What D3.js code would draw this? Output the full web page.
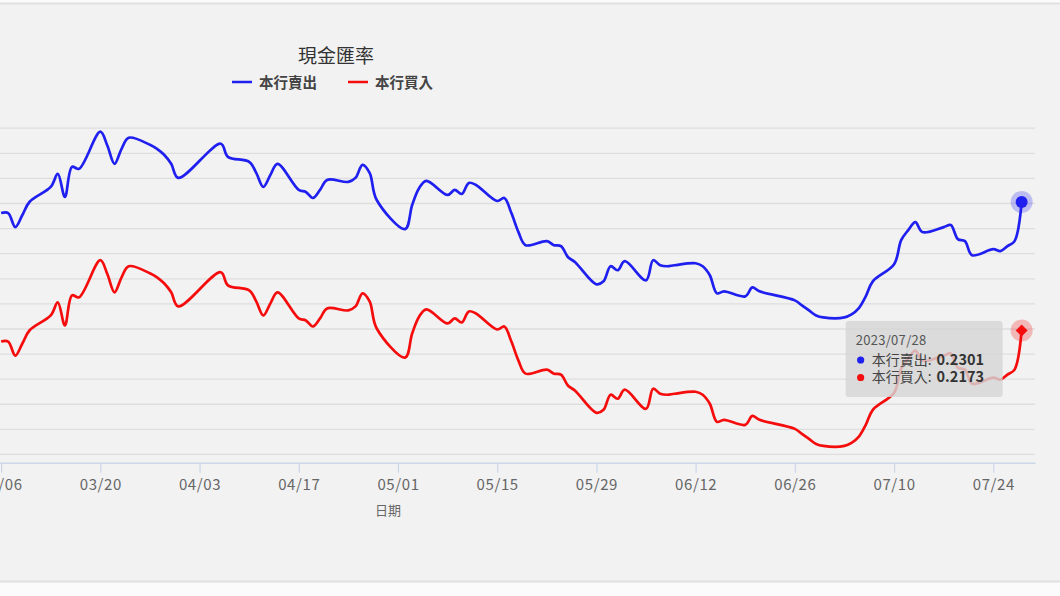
<!DOCTYPE html>
<html>
<head>
<meta charset="utf-8">
<script src="https://cdn.jsdelivr.net/npm/d3@7"></script>
<style>
  html, body { margin: 0; padding: 0; background: #fbfbfb; overflow: hidden; }
  #chart { width: 1060px; height: 596px; }
  text { font-family: "Noto Sans CJK TC", "Noto Sans", sans-serif; }
</style>
</head>
<body>
<div id="chart"></div>
<script>
// 現金匯率 (本行賣出 / 本行買入), 2023
const year = 2023;

const dates = [
    "03/06","03/07","03/08","03/09","03/10",
    "03/13","03/14","03/15","03/16","03/17",
    "03/20","03/21","03/22","03/23","03/24",
    "03/27","03/28","03/29","03/30","03/31",
    "04/06","04/07",
    "04/10","04/11","04/12","04/13","04/14",
    "04/17","04/18","04/19","04/20","04/21",
    "04/24","04/25","04/26","04/27","04/28",
    "05/02","05/03","05/04","05/05",
    "05/08","05/09","05/10","05/11","05/12",
    "05/15","05/16","05/17","05/18","05/19",
    "05/22","05/23","05/24","05/25","05/26",
    "05/29","05/30","05/31","06/01","06/02",
    "06/05","06/06","06/07","06/08","06/09",
    "06/12","06/13","06/14","06/15","06/16",
    "06/19","06/20","06/21",
    "06/26","06/27","06/28","06/29","06/30",
    "07/03","07/04","07/05","07/06","07/07",
    "07/10","07/11","07/12","07/13","07/14",
    "07/17","07/18","07/19","07/20","07/21",
    "07/24","07/25","07/26","07/27","07/28"
];

const sellRate = [
    0.2290, 0.2290, 0.2276, 0.2288, 0.2301,
    0.2316, 0.2329, 0.2306, 0.2336, 0.2334,
    0.2371, 0.2357, 0.2339, 0.2354, 0.2365,
    0.2358, 0.2354, 0.2348, 0.2339, 0.2325,
    0.2359, 0.2346,
    0.2341, 0.2330, 0.2316, 0.2328, 0.2339,
    0.2313, 0.2311, 0.2305, 0.2313, 0.2323,
    0.2321, 0.2325, 0.2338, 0.2330, 0.2303,
    0.2274, 0.2298, 0.2315, 0.2322,
    0.2308, 0.2313, 0.2309, 0.2320, 0.2318,
    0.2302, 0.2305, 0.2290, 0.2271, 0.2258,
    0.2262, 0.2258, 0.2257, 0.2246, 0.2241,
    0.2219, 0.2222, 0.2237, 0.2233, 0.2242,
    0.2223, 0.2243, 0.2238, 0.2237, 0.2238,
    0.2240, 0.2237, 0.2228, 0.2210, 0.2212,
    0.2207, 0.2216, 0.2212,
    0.2203, 0.2198, 0.2193, 0.2188, 0.2186,
    0.2186, 0.2189, 0.2195, 0.2207, 0.2222,
    0.2239, 0.2263, 0.2273, 0.2281, 0.2271,
    0.2276, 0.2278, 0.2264, 0.2262, 0.2248,
    0.2254, 0.2252, 0.2257, 0.2262, 0.2301
];

const buyRate = [
    0.2162, 0.2162, 0.2148, 0.2160, 0.2173,
    0.2188, 0.2201, 0.2178, 0.2208, 0.2206,
    0.2243, 0.2229, 0.2211, 0.2226, 0.2237,
    0.2230, 0.2226, 0.2220, 0.2211, 0.2197,
    0.2231, 0.2218,
    0.2213, 0.2202, 0.2188, 0.2200, 0.2211,
    0.2185, 0.2183, 0.2177, 0.2185, 0.2195,
    0.2193, 0.2197, 0.2210, 0.2202, 0.2175,
    0.2146, 0.2170, 0.2187, 0.2194,
    0.2180, 0.2185, 0.2181, 0.2192, 0.2190,
    0.2174, 0.2177, 0.2162, 0.2143, 0.2130,
    0.2134, 0.2130, 0.2129, 0.2118, 0.2113,
    0.2091, 0.2094, 0.2109, 0.2105, 0.2114,
    0.2095, 0.2115, 0.2110, 0.2109, 0.2110,
    0.2112, 0.2109, 0.2100, 0.2082, 0.2084,
    0.2079, 0.2088, 0.2084,
    0.2075, 0.2070, 0.2065, 0.2060, 0.2058,
    0.2058, 0.2061, 0.2067, 0.2079, 0.2094,
    0.2111, 0.2135, 0.2145, 0.2153, 0.2143,
    0.2148, 0.2150, 0.2136, 0.2134, 0.2120,
    0.2126, 0.2124, 0.2129, 0.2134, 0.2173
];

const xTickLabels = ["03/06","03/20","04/03","04/17","05/01","05/15","05/29","06/12","06/26","07/10","07/24"];
const yTicks = [0.2050, 0.2075, 0.2100, 0.2125, 0.2150, 0.2175, 0.2200, 0.2225, 0.2250, 0.2275, 0.2300, 0.2325, 0.2350, 0.2375];

const seriesNames = ["本行賣出", "本行買入"];
const seriesColors = ["#1f1ff0", "#f50c0c"];

const parseDay = d3.utcParse("%Y/%m/%d");
const toDate = s => parseDay(`${year}/${s}`);

const width = 1060, height = 596;
const plot = { left: -40, right: 1035, top: 127.7, bottom: 462.7 };

const svg = d3.select("#chart").append("svg")
    .attr("width", width)
    .attr("height", height);

// chart panel (cropped on the left)
svg.append("rect")
    .attr("x", -20).attr("y", 3.5)
    .attr("width", width + 40).attr("height", 578)
    .attr("fill", "#f2f2f2")
    .attr("stroke", "#e0e0e0")
    .attr("stroke-width", 2);

// scales: 03/06 sits at the very left edge of the crop
let x = d3.scaleUtc()
    .domain([toDate("03/06"), toDate("07/24")])
    .range([1.1, 993.3]);
x.domain([x.invert(plot.left), x.invert(plot.right)]).range([plot.left, plot.right]);

const y = d3.scaleLinear()
    .domain([0.20413, 0.2375])
    .range([plot.bottom, plot.top]);

// horizontal grid
const grid = svg.append("g")
    .attr("transform", `translate(${plot.left},0)`)
    .call(d3.axisLeft(y).tickValues(yTicks).tickSize(-(plot.right - plot.left)).tickFormat(""));
grid.select(".domain").remove();
grid.selectAll("line").attr("stroke", "#dedede").attr("stroke-width", 1.3);

// x axis
const xAxis = svg.append("g")
    .attr("transform", `translate(0,${plot.bottom})`)
    .call(d3.axisBottom(x)
        .tickValues(xTickLabels.map(toDate))
        .tickFormat(d3.utcFormat("%m/%d"))
        .tickSize(10)
        .tickSizeOuter(0));
xAxis.select(".domain").attr("stroke", "#ccd6eb").attr("stroke-width", 1.5);
xAxis.selectAll(".tick line").attr("stroke", "#ccd6eb").attr("stroke-width", 1.2);
xAxis.selectAll(".tick text")
    .attr("fill", "#666")
    .attr("font-size", 15)
    .attr("letter-spacing", 0.6)
    .attr("dy", "0.95em");

svg.append("text")
    .attr("x", 388).attr("y", 515)
    .attr("text-anchor", "middle")
    .attr("font-size", 13)
    .attr("fill", "#666")
    .text("日期");

// lines
const points = [sellRate, buyRate].map(vals => dates.map((d, i) => ({ date: toDate(d), value: vals[i] })));

const line = d3.line()
    .x(d => x(d.date))
    .y(d => y(d.value))
    .curve(d3.curveCatmullRom.alpha(0.5));

points.forEach((pts, i) => {
    svg.append("path")
        .datum(pts)
        .attr("fill", "none")
        .attr("stroke", seriesColors[i])
        .attr("stroke-width", 2.7)
        .attr("stroke-linejoin", "round")
        .attr("d", line);
});

// title + legend
svg.append("text")
    .attr("x", 336).attr("y", 63)
    .attr("text-anchor", "middle")
    .attr("font-size", 19)
    .attr("fill", "#333")
    .text("現金匯率");

const legendX = [232, 348];
seriesNames.forEach((name, i) => {
    const g = svg.append("g").attr("transform", `translate(${legendX[i]},82)`);
    g.append("line")
        .attr("x1", 0).attr("x2", 20)
        .attr("stroke", seriesColors[i])
        .attr("stroke-width", 2.5);
    g.append("text")
        .attr("x", 27).attr("y", 5.5)
        .attr("font-size", 14.5)
        .attr("font-weight", "bold")
        .attr("fill", "#444")
        .text(name);
});

// hover state on the last day
const lastIdx = dates.length - 1;
const hx = x(points[0][lastIdx].date);
const hySell = y(sellRate[lastIdx]);
const hyBuy = y(buyRate[lastIdx]);

svg.append("circle").attr("cx", hx).attr("cy", hySell).attr("r", 11)
    .attr("fill", seriesColors[0]).attr("fill-opacity", 0.25);
svg.append("circle").attr("cx", hx).attr("cy", hySell).attr("r", 6)
    .attr("fill", seriesColors[0]);

svg.append("circle").attr("cx", hx).attr("cy", hyBuy).attr("r", 11)
    .attr("fill", seriesColors[1]).attr("fill-opacity", 0.25);
svg.append("path")
    .attr("transform", `translate(${hx},${hyBuy})`)
    .attr("d", "M0,-6L6,0L0,6L-6,0Z")
    .attr("fill", seriesColors[1]);

// tooltip
const tip = svg.append("g").attr("transform", `translate(${hx - 176},${hyBuy - 9.5})`);
tip.append("rect")
    .attr("width", 157).attr("height", 76)
    .attr("rx", 3)
    .attr("fill", "#d6d6d6")
    .attr("fill-opacity", 0.82);
tip.append("text")
    .attr("x", 10).attr("y", 24)
    .attr("font-size", 13)
    .attr("letter-spacing", 0.3)
    .attr("fill", "#555")
    .text(`${year}/${dates[lastIdx]}`);

[sellRate, buyRate].forEach((vals, i) => {
    const rowY = 39 + i * 17.5;
    tip.append("circle")
        .attr("cx", 15).attr("cy", rowY).attr("r", 3.6)
        .attr("fill", seriesColors[i]);
    const label = tip.append("text")
        .attr("x", 26).attr("y", rowY + 5)
        .attr("font-size", 14)
        .attr("fill", "#444")
        .text(`${seriesNames[i]}:`);
    const labelEnd = 26 + label.node().getComputedTextLength();
    tip.append("text")
        .attr("x", labelEnd + 5).attr("y", rowY + 5)
        .attr("font-size", 14.5)
        .attr("font-weight", "bold")
        .attr("fill", "#333")
        .text(vals[lastIdx].toFixed(4));
});
</script>
</body>
</html>
